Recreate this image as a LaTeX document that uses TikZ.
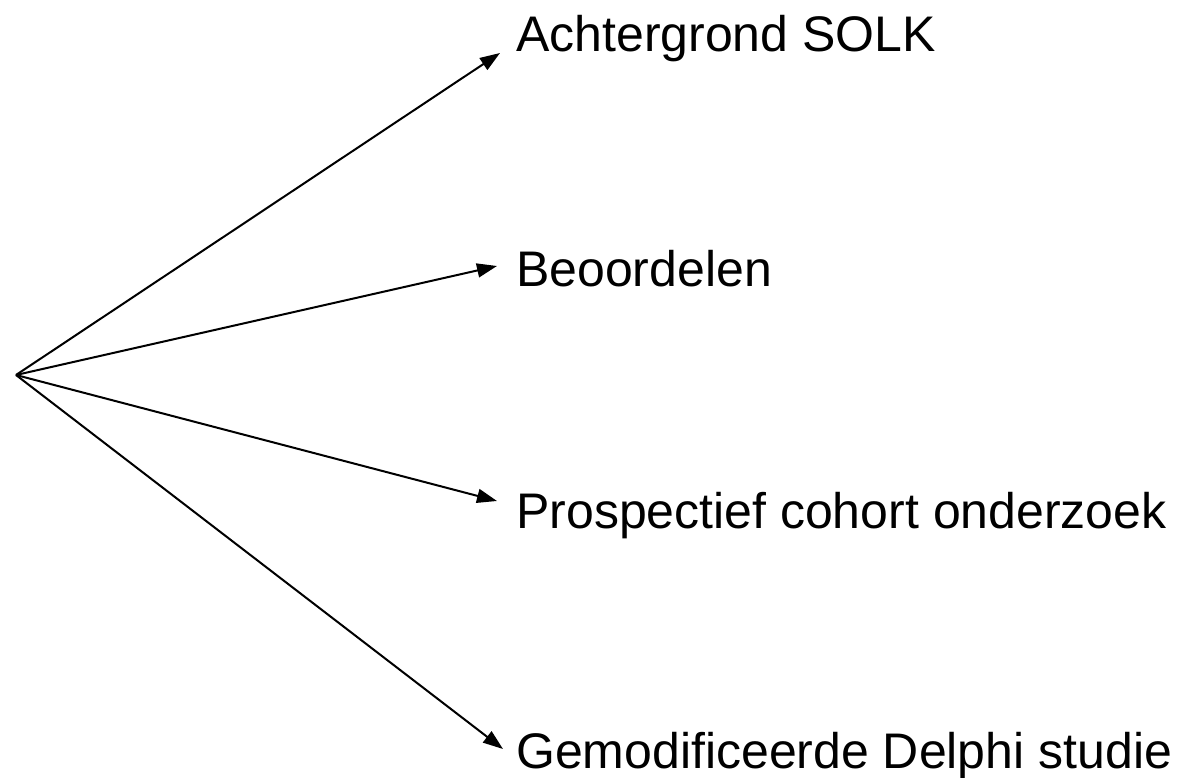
\documentclass[tikz,border=0pt]{standalone}
\usepackage{fontspec}
\setmainfont{Liberation Sans}
\usepackage{tikz}
\usetikzlibrary{arrows.meta}
\tikzstyle{onderwerp}=[anchor=base west, inner sep=0pt, font=\fontsize{50pt}{60pt}\selectfont]
\tikzstyle{pijl}=[->, >={Triangle[length=20pt, width=14pt]}, line width=2pt]

\begin{document}
\begin{tikzpicture}[x=1pt, y=-1pt]
				\useasboundingbox (0,0) rectangle (1181,778);
				\coordinate (hub) at (16,375);
				\node[onderwerp] (solk) at (516,52) {Achtergrond SOLK};
				\node[onderwerp] (beoordelen) at (516,287) {Beoordelen};
				\node[onderwerp] (cohort) at (516,528) {Prospectief cohort onderzoek};
				\node[onderwerp] (delphi) at (516,768) {Gemodificeerde Delphi studie};
				\coordinate (tsolk) at (500,53);
				\coordinate (tbeoordelen) at (497,266);
				\coordinate (tcohort) at (497,501);
				\coordinate (tdelphi) at (503,749);
				\draw[pijl] (hub)--(tsolk);
				\draw[pijl] (hub)--(tbeoordelen);
				\draw[pijl] (hub)--(tcohort);
				\draw[pijl] (hub)--(tdelphi);
			\end{tikzpicture}
\end{document}
